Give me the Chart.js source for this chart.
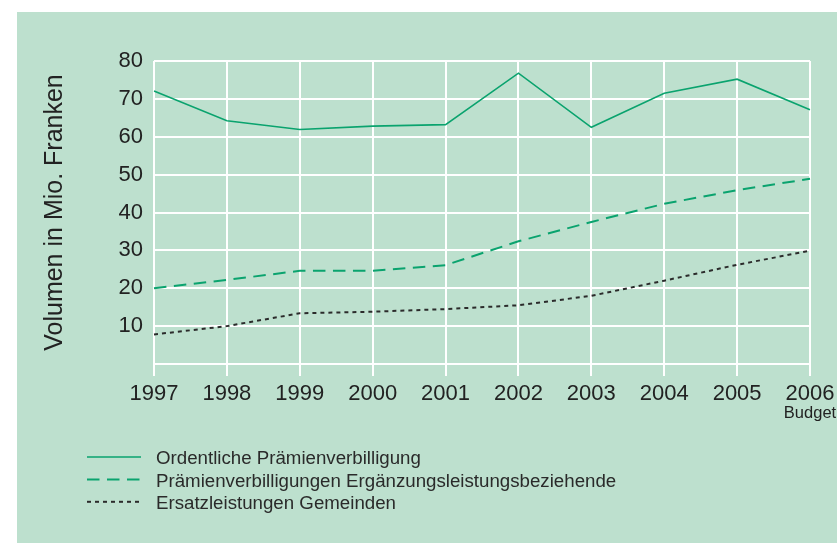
<!DOCTYPE html>
<html>
<head>
<meta charset="utf-8">
<script src="https://cdn.jsdelivr.net/npm/chart.js@4.4.1/dist/chart.umd.min.js"></script>
<style>
  html, body { margin: 0; padding: 0; background: #fff; overflow: hidden; width: 837px; height: 543px; }
  #panel { position: absolute; left: 17px; top: 12px; right: 0; bottom: 0; background: #bde0ce; }
  #c { position: absolute; left: 0; top: 0; }
</style>
</head>
<body>
<div id="panel"></div>
<canvas id="c" width="870" height="543"></canvas>
<script>
  const years = ["1997", "1998", "1999", "2000", "2001", "2002", "2003", "2004", "2005", "2006"];
  // Zusatz unter einzelnen Jahren
  const tickNotes = ["", "", "", "", "", "", "", "", "", "Budget"];

  const ordentliche = [72.1, 64.2, 61.9, 62.8, 63.2, 76.8, 62.5, 71.5, 75.2, 67.1];
  const ergaenzung = [20.0, 22.2, 24.6, 24.6, 26.1, 32.4, 37.5, 42.3, 45.9, 48.9];
  const gemeinden = [7.8, 10.0, 13.4, 13.8, 14.5, 15.5, 18.0, 22.0, 26.2, 29.9];

  const seriesNames = [
    "Ordentliche Prämienverbilligung",
    "Prämienverbilligungen Ergänzungsleistungsbeziehende",
    "Ersatzleistungen Gemeinden"
  ];

  const yMin = 0, yMax = 80, yStep = 10;
  const yTitle = "Volumen in Mio. Franken";

  const FONT = '"Liberation Sans", Arial, Helvetica, sans-serif';
  const GREEN = "#0aa36e";
  const TEXT = "#222";

  // Legende als Liste unter dem Diagramm
  const listLegend = {
    id: "listLegend",
    afterDraw(chart) {
      const ctx = chart.ctx;
      ctx.save();
      ctx.font = "18.7px " + FONT;
      ctx.textBaseline = "middle";
      ctx.textAlign = "left";
      chart.data.datasets.forEach((ds, i) => {
        const y = 457 + i * 22.4;
        ctx.strokeStyle = ds.borderColor;
        ctx.lineWidth = ds.borderWidth;
        ctx.setLineDash(ds.borderDash || []);
        ctx.beginPath();
        ctx.moveTo(87, y);
        ctx.lineTo(141, y);
        ctx.stroke();
        ctx.setLineDash([]);
        ctx.fillStyle = "#2a2a2a";
        ctx.fillText(ds.label, 156, y + 2);
      });
      ctx.restore();
    }
  };

  // "Budget" unter 2006
  const tickNotesPlugin = {
    id: "tickNotes",
    afterDraw(chart) {
      const ctx = chart.ctx;
      const xs = chart.scales.x;
      ctx.save();
      ctx.font = "16.5px " + FONT;
      ctx.fillStyle = TEXT;
      ctx.textAlign = "center";
      ctx.textBaseline = "alphabetic";
      tickNotes.forEach((note, i) => {
        if (note) ctx.fillText(note, xs.getPixelForValue(i), xs.top + 54);
      });
      ctx.restore();
    }
  };

  new Chart(document.getElementById("c"), {
    type: "line",
    data: {
      labels: years,
      datasets: [
        { label: seriesNames[0], data: ordentliche, borderColor: GREEN, borderWidth: 1.6, borderDash: [] },
        { label: seriesNames[1], data: ergaenzung, borderColor: GREEN, borderWidth: 2, borderDash: [12.5, 7.5] },
        { label: seriesNames[2], data: gemeinden, borderColor: "#2b2b2b", borderWidth: 2, borderDash: [4, 4] }
      ]
    },
    options: {
      responsive: false,
      animation: false,
      layout: { padding: { top: 61, right: 60, left: 0, bottom: 0 } },
      elements: {
        point: { radius: 0, hoverRadius: 0 },
        line: { tension: 0, fill: false }
      },
      plugins: {
        legend: { display: false },
        tooltip: { enabled: false }
      },
      scales: {
        x: {
          offset: false,
          border: { display: false },
          grid: { color: "#fff", lineWidth: 2, drawTicks: true, tickLength: 12 },
          ticks: { color: TEXT, font: { family: FONT, size: 22 }, padding: 5, maxRotation: 0, autoSkip: false },
          afterFit: (s) => { s.height = 179; }
        },
        y: {
          min: yMin,
          max: yMax,
          border: { display: false },
          grid: { color: "#fff", lineWidth: 2, drawTicks: false },
          ticks: {
            stepSize: yStep,
            color: TEXT,
            font: { family: FONT, size: 22 },
            padding: 11,
            callback: (v) => (v === 0 ? "" : v)
          },
          title: {
            display: true,
            text: yTitle,
            color: TEXT,
            font: { family: FONT, size: 25 },
            padding: { top: 40, bottom: 0 }
          },
          afterFit: (s) => { s.width = 154; }
        }
      }
    },
    plugins: [listLegend, tickNotesPlugin]
  });
</script>
</body>
</html>
